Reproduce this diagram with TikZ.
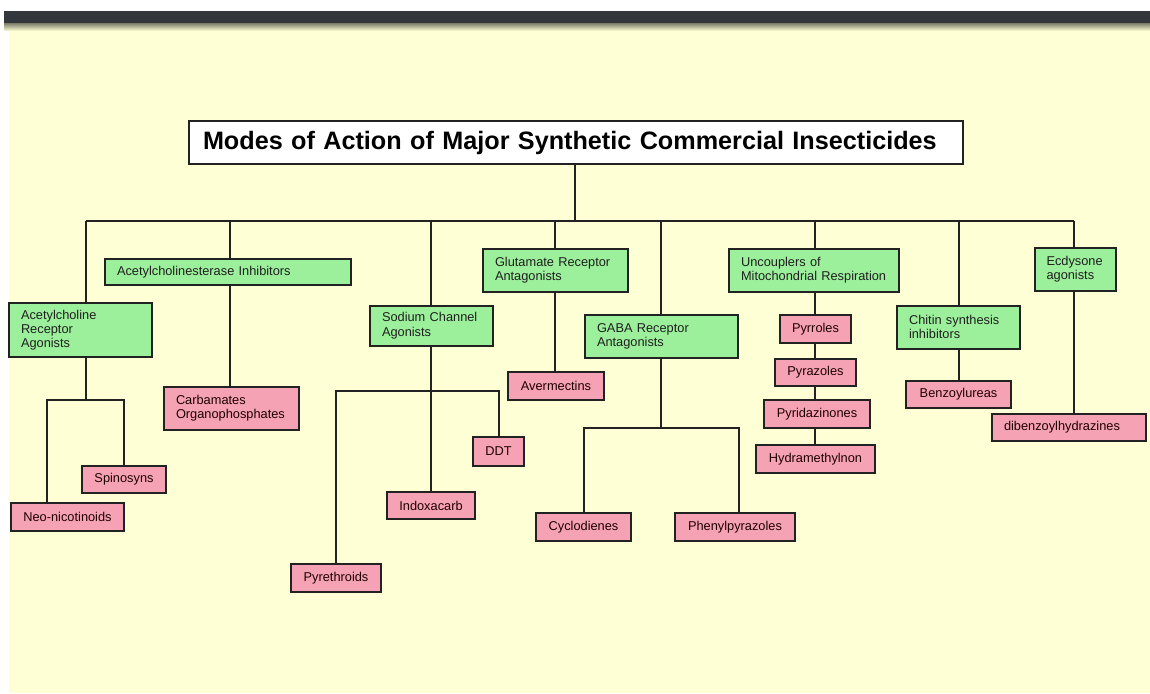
\documentclass[tikz,border=0pt]{standalone}
\usepackage{fontspec}
\setmainfont{Liberation Sans}
\usepackage{tikz}
\usetikzlibrary{calc}
\definecolor{bg-cream}{HTML}{FFFFD6}
\definecolor{bar-dark}{HTML}{33363A}
\definecolor{box-green}{HTML}{9CF09C}
\definecolor{box-pink}{HTML}{F5A3B4}
\definecolor{edge-dark}{HTML}{222222}
\newcommand{\boxfont}{\fontsize{12.8}{14.2}\selectfont}
\tikzset{
  modebox/.style={draw=edge-dark,line width=2pt,fill=box-green,inner xsep=12pt,inner ysep=0pt,
    align=left,font=\boxfont,text=black!88},
  chembox/.style={modebox,fill=box-pink,align=center,text=black!80!red!60!black},
  link/.style={draw=edge-dark,line width=2pt},
}

\begin{document}
\begin{tikzpicture}[x=1pt,y=-1pt]
  \useasboundingbox (0,0) rectangle (1150,693);
  % page, top bar
  \fill[white] (0,0) rectangle (1150,693);
  \fill[bg-cream] (9,24) rectangle (1150,693);
  \fill[bar-dark] (4,11) rectangle (1150,24);
  \shade[top color=black!45!bg-cream,bottom color=bg-cream] (4,24) rectangle (1150,31);

  \node[modebox,fill=white,inner xsep=14pt,text width=746pt,minimum height=43pt,
    font=\fontsize{25.2}{28}\selectfont\bfseries,text=black] (title) at (576,142.5)
    {Modes of Action of Major Synthetic Commercial Insecticides};

  % modes of action
  \node[modebox,text width=119pt,minimum height=54pt] (achr) at (80.5,330) {Acetylcholine\\Receptor\\Agonists};
  \node[modebox,text width=222pt,minimum height=26pt] (ache) at (228,272) {Acetylcholinesterase Inhibitors};
  \node[modebox,text width=99pt,minimum height=40.5pt] (sod) at (431.5,325.75) {Sodium Channel\\Agonists};
  \node[modebox,text width=121pt,minimum height=43pt] (glu) at (555.5,270.5) {Glutamate Receptor\\Antagonists};
  \node[modebox,text width=129pt,minimum height=43pt] (gaba) at (661.5,336.5) {GABA Receptor\\Antagonists};
  \node[modebox,text width=146pt,minimum height=43pt] (unc) at (814,270.5) {Uncouplers of\\Mitochondrial Respiration};
  \node[modebox,text width=99pt,minimum height=43pt] (chit) at (958.5,327.3) {Chitin synthesis\\inhibitors};
  \node[modebox,text width=57pt,minimum height=43pt] (ecd) at (1075,269.5) {Ecdysone\\agonists};

  % insecticide groups
  \node[chembox,text width=60pt,minimum height=27.5pt] (spin) at (124,479.5) {Spinosyns};
  \node[chembox,text width=89pt,minimum height=28pt] (neo) at (67.5,517) {Neo-nicotinoids};
  \node[chembox,align=left,text width=111pt,minimum height=43pt] (carb) at (231.5,408.5) {Carbamates\\Organophosphates};
  \node[chembox,text width=72pt,minimum height=28pt] (aver) at (556,386) {Avermectins};
  \node[chembox,text width=27pt,minimum height=29pt] (ddt) at (498.5,451.5) {DDT};
  \node[chembox,text width=64pt,minimum height=27pt] (indox) at (431,505.5) {Indoxacarb};
  \node[chembox,text width=66pt,minimum height=28pt] (pyre) at (336,578) {Pyrethroids};
  \node[chembox,text width=71pt,minimum height=28pt] (cyc) at (583.5,527) {Cyclodienes};
  \node[chembox,text width=96pt,minimum height=28pt] (phen) at (735,527) {Phenylpyrazoles};
  \node[chembox,text width=47pt,minimum height=28pt] (pyrro) at (815.5,329) {Pyrroles};
  \node[chembox,text width=57pt,minimum height=27pt] (pyraz) at (815.5,372.5) {Pyrazoles};
  \node[chembox,text width=82pt,minimum height=28pt] (pyrid) at (817,414) {Pyridazinones};
  \node[chembox,text width=95pt,minimum height=28pt] (hydra) at (815.5,459) {Hydramethylnon};
  \node[chembox,text width=81pt,minimum height=27pt] (ben) at (958.5,394.5) {Benzoylureas};
  \node[chembox,align=left,text width=130pt,minimum height=27pt] (dib) at (1069,427.5) {dibenzoylhydrazines};

  % main bus
  \coordinate (hub) at (575,220.5);
  \coordinate (dachr) at (85.5,220.5);
  \coordinate (dache) at (229.5,220.5);
  \coordinate (dsod) at (431.3,220.5);
  \coordinate (dglu) at (555.3,220.5);
  \coordinate (dgaba) at (661,220.5);
  \coordinate (dunc) at (814.7,220.5);
  \coordinate (dchit) at (958.7,220.5);
  \coordinate (decd) at (1073.7,220.5);
  \draw[link] (title.south -| hub) -- (hub);
  \draw[link] (dachr) -- (decd);
  \foreach \n in {achr,ache,sod,glu,gaba,unc,chit,ecd}
    \draw[link] (d\n) -- (d\n |- \n.north);

  % branches
  \coordinate (achrbus) at (85.5,400);
  \coordinate (achrleft) at (47,400);
  \draw[link] (dachr |- achr.south) -- (achrbus);
  \draw[link] (achrleft |- neo.north) -- (achrleft) -| (spin.north);
  \draw[link] (dache |- ache.south) -- (dache |- carb.north);
  \coordinate (sodbus) at (431.3,390.7);
  \draw[link] (dsod |- sod.south) -- (dsod |- indox.north);
  \draw[link] (pyre.north) |- (sodbus) -| (ddt.north);
  \draw[link] (dglu |- glu.south) -- (dglu |- aver.north);
  \coordinate (gababus) at (661,428);
  \coordinate (gabaright) at (738.7,428);
  \draw[link] (dgaba |- gaba.south) -- (gababus);
  \draw[link] (cyc.north) |- (gabaright) -- (gabaright |- phen.north);
  \foreach \a/\b in {unc/pyrro,pyrro/pyraz,pyraz/pyrid,pyrid/hydra}
    \draw[link] (dunc |- \a.south) -- (dunc |- \b.north);
  \draw[link] (dchit |- chit.south) -- (dchit |- ben.north);
  \draw[link] (decd |- ecd.south) -- (decd |- dib.north);
\end{tikzpicture}
\end{document}
